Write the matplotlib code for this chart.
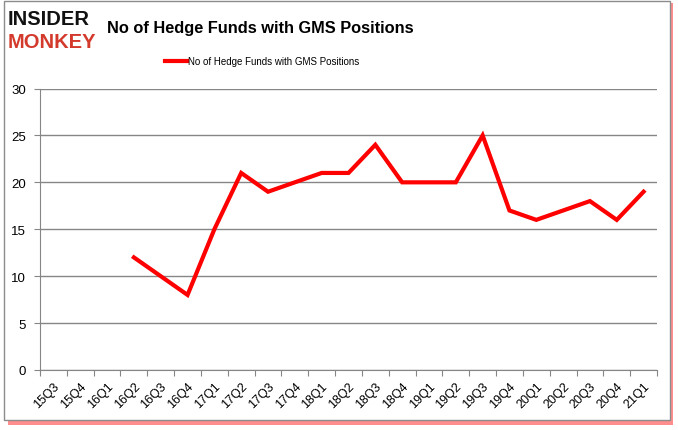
import numpy as np
import matplotlib
matplotlib.use("Agg")
import matplotlib.pyplot as plt
from matplotlib.patches import Rectangle

quarters = ["15Q3", "15Q4", "16Q1", "16Q2", "16Q3", "16Q4", "17Q1", "17Q2",
            "17Q3", "17Q4", "18Q1", "18Q2", "18Q3", "18Q4", "19Q1", "19Q2",
            "19Q3", "19Q4", "20Q1", "20Q2", "20Q3", "20Q4", "21Q1"]
funds = [np.nan, np.nan, np.nan, 12, 10, 8, 15, 21,
         19, 20, 21, 21, 24, 20, 20, 20,
         25, 17, 16, 17, 18, 16, 19]
series_name = "No of Hedge Funds with GMS Positions"

plt.rcParams["font.family"] = ["Liberation Sans", "DejaVu Sans"]

fig = plt.figure(figsize=(6.78, 4.31), dpi=100)

# frame with red shadow
fig.patches.append(Rectangle((8 / 678, 1 - 426 / 431), 665 / 678, 422 / 431,
                             transform=fig.transFigure, facecolor="#ff3030",
                             edgecolor="none", alpha=0.55, zorder=0))
fig.patches.append(Rectangle((4 / 678, 1 - 421 / 431), 666 / 678, 419 / 431,
                             transform=fig.transFigure, facecolor="white",
                             edgecolor="#8c8c8c", linewidth=1, zorder=1))

ax = fig.add_axes([40 / 678, 60 / 431, 617 / 678, 281.5 / 431])
ax.set_zorder(2)
ax.patch.set_alpha(0)

x = np.arange(len(quarters)) + 0.5
ax.plot(x, funds, color="#ff0000", linewidth=3, solid_joinstyle="miter",
        label=series_name)

ax.set_xlim(0, len(quarters))
ax.set_ylim(0, 30)
ax.set_yticks(range(0, 31, 5))
ax.set_xticks(np.arange(len(quarters) + 1))
ax.set_xticklabels([])
ax.set_xticks(x, minor=True)
ax.set_xticklabels(quarters, minor=True, rotation=45, fontsize=9,
                   ha="right", va="top", rotation_mode="anchor")
ax.tick_params(axis="x", which="minor", length=0, pad=7)
ax.tick_params(axis="x", which="major", length=4, color="#868686", direction="out")
ax.tick_params(axis="y", length=4, color="#868686", labelsize=9.5, pad=6)

ax.grid(axis="y", color="#868686", linewidth=1)
ax.set_axisbelow(True)
for side in ["top", "right"]:
    ax.spines[side].set_visible(False)
ax.spines["left"].set_color("#868686")
ax.spines["bottom"].set_color("#868686")

ax.legend(loc="center", bbox_to_anchor=(0.36, 1.096), frameon=False,
          fontsize=7, handlelength=2.2, handletextpad=0.1)

fig.text(0.384, 0.935, series_name, ha="center", va="center",
         fontsize=11.8, fontweight="bold")
fig.text(0.011, 0.955, "INSIDER", ha="left", va="center", fontsize=14.5,
         fontweight="heavy", color="#111111")
fig.text(0.011, 0.902, "MONKEY", ha="left", va="center", fontsize=14.5,
         fontweight="heavy", color="#d33a2c")

fig.savefig("out.png", dpi=100)
